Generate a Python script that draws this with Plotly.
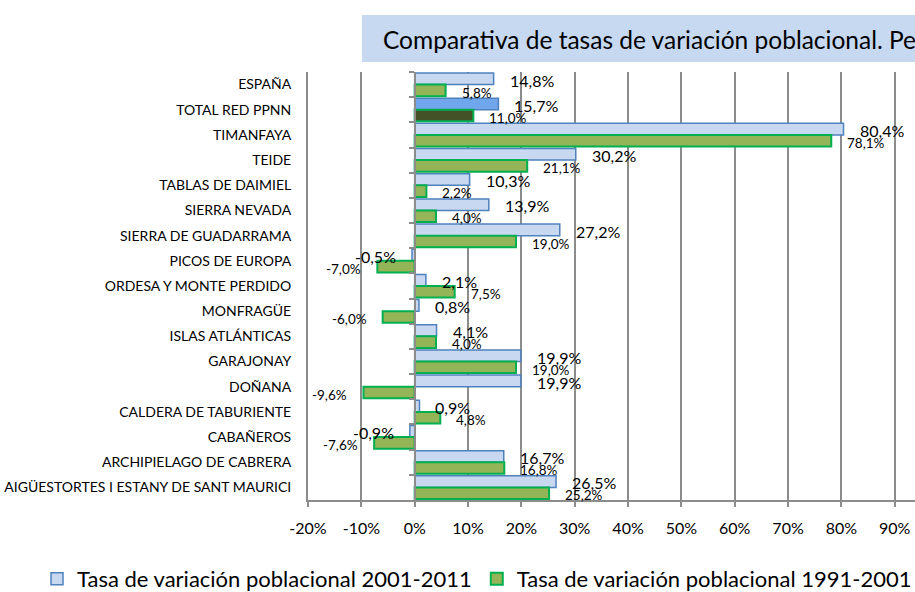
import plotly.graph_objects as go

categories = ["ESPAÑA", "TOTAL RED PPNN", "TIMANFAYA", "TEIDE", "TABLAS DE DAIMIEL",
              "SIERRA NEVADA", "SIERRA DE GUADARRAMA", "PICOS DE EUROPA",
              "ORDESA Y MONTE PERDIDO", "MONFRAGÜE", "ISLAS ATLÁNTICAS", "GARAJONAY",
              "DOÑANA", "CALDERA DE TABURIENTE", "CABAÑEROS", "ARCHIPIELAGO DE CABRERA",
              "AIGÜESTORTES I ESTANY DE SANT MAURICI"]
tasa_2001_2011 = [14.8, 15.7, 80.4, 30.2, 10.3, 13.9, 27.2, -0.5, 2.1, 0.8, 4.1, 19.9,
                  19.9, 0.9, -0.9, 16.7, 26.5]
tasa_1991_2001 = [5.8, 11.0, 78.1, 21.1, 2.2, 4.0, 19.0, -7.0, 7.5, -6.0, 4.0, 19.0,
                  -9.6, 4.8, -7.6, 16.8, 25.2]
tick_vals = [-20, -10, 0, 10, 20, 30, 40, 50, 60, 70, 80, 90]
tick_text = ["-20%", "-10%", "0%", "10%", "20%", "30%", "40%", "50%", "60%", "70%", "80%", "90%"]
name_a = "Tasa de variación poblacional 2001-2011"
name_b = "Tasa de variación poblacional 1991-2001"
title_text = "Comparativa de tasas de variación poblacional. Periodos 1991-2001 y 2001-2011"

FONT = "Lato"
X_RANGE = [-20, 93.8]
Y_RANGE = [len(categories) - 0.5, -0.5]   # category axis, top to bottom
W, H = 915, 592
ML, MR, MT, MB = 308, 0, 72, 92
PW = W - ML - MR
PH = H - MT - MB

blue_fill = ["#6fa6ec" if c == "TOTAL RED PPNN" else "#c8d8f0" for c in categories]
green_fill = ["#435227" if c == "TOTAL RED PPNN" else "#93b457" for c in categories]

fig = go.Figure()
fig.add_trace(go.Bar(
    y=categories, x=tasa_2001_2011, orientation="h", name=name_a,
    marker=dict(color=blue_fill, line=dict(color="#4f81bd", width=1.5)),
    hoverinfo="skip"))
fig.add_trace(go.Bar(
    y=categories, x=tasa_1991_2001, orientation="h", name=name_b,
    marker=dict(color=green_fill, line=dict(color="#00b050", width=2)),
    hoverinfo="skip"))
# invisible helper trace for the category axis drawn at x = 0
fig.add_trace(go.Scatter(
    y=categories, x=[0] * len(categories), yaxis="y2", mode="markers",
    marker=dict(opacity=0), showlegend=False, hoverinfo="skip"))


def fmt(v):
    return f"{v:.1f}".replace(".", ",") + "%"


annotations = []
for c, v in zip(categories, tasa_2001_2011):
    annotations.append(dict(
        x=v, y=c, xref="x", yref="y", text=fmt(v), showarrow=False,
        xanchor="left" if v >= 0 else "right", xshift=14 if v >= 0 else -14,
        yshift=4.5, font=dict(family=FONT, size=16, color="#000000")))
for c, v in zip(categories, tasa_1991_2001):
    annotations.append(dict(
        x=v, y=c, xref="x", yref="y", text=fmt(v), showarrow=False,
        xanchor="left" if v >= 0 else "right", xshift=14 if v >= 0 else -14,
        yshift=-8, font=dict(family=FONT, size=13.5, color="#000000")))

# title box
annotations.append(dict(
    x=(381 - ML) / PW, y=(H - MB - 39) / PH, xref="paper", yref="paper",
    text=title_text, showarrow=False, xanchor="left", yanchor="middle",
    font=dict(family=FONT, size=24.5, color="#000000")))

shapes = [dict(type="rect", xref="paper", yref="paper",
               x0=(362 - ML) / PW, x1=1.2,
               y0=(H - MB - 62) / PH, y1=(H - MB - 15) / PH,
               fillcolor="#c6d9f1", line=dict(width=0), layer="below")]

zero_pos = (0 - X_RANGE[0]) / (X_RANGE[1] - X_RANGE[0])

fig.update_layout(
    width=W, height=H,
    margin=dict(l=ML, r=MR, t=MT, b=MB, autoexpand=False),
    paper_bgcolor="white", plot_bgcolor="white",
    barmode="group", bargap=0.08, bargroupgap=0.0,
    font=dict(family=FONT, color="#000000"),
    xaxis=dict(range=X_RANGE, tickvals=tick_vals, ticktext=tick_text,
               showgrid=True, gridcolor="#8c8c8c", gridwidth=2,
               zeroline=False, showline=True, linecolor="#8c8c8c", linewidth=2,
               ticks="outside", ticklen=5, tickcolor="#8c8c8c", tickwidth=2,
               tickfont=dict(family=FONT, size=16, color="#000000"),
               ticklabelstandoff=8, fixedrange=True),
    yaxis=dict(type="category", categoryorder="array", categoryarray=categories,
               range=Y_RANGE, autorange=False, showgrid=False, zeroline=False,
               showline=True, linecolor="#8c8c8c", linewidth=2, ticks="",
               tickfont=dict(family=FONT, size=14, color="#000000"),
               ticklabelstandoff=12, automargin=False, fixedrange=True),
    yaxis2=dict(type="category", categoryorder="array", categoryarray=categories,
                range=Y_RANGE, autorange=False, overlaying="y", matches="y",
                anchor="free", position=zero_pos, side="left",
                showgrid=False, zeroline=False, showticklabels=False,
                showline=True, linecolor="#8c8c8c", linewidth=2,
                ticks="outside", ticklen=5, tickcolor="#8c8c8c", tickwidth=2,
                tickson="boundaries", fixedrange=True),
    legend=dict(orientation="h", x=(37 - ML) / PW, xanchor="left",
                y=(H - MB - 579) / PH, yanchor="middle",
                font=dict(family=FONT, size=22, color="#000000"),
                bgcolor="rgba(0,0,0,0)"),
    annotations=annotations, shapes=shapes,
)

fig.write_html("out.html", config={"displayModeBar": False},
               post_script="document.body.style.margin='0';document.body.style.overflow='hidden';")
